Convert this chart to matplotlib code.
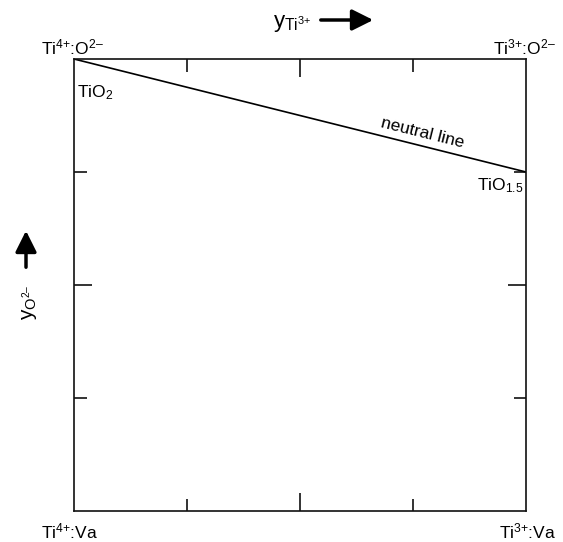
import matplotlib
matplotlib.use("Agg")
import matplotlib.pyplot as plt

plt.rcParams['font.family'] = ['Liberation Sans', 'DejaVu Sans']
plt.rcParams['mathtext.fontset'] = 'custom'
plt.rcParams['mathtext.rm'] = 'Liberation Sans'
plt.rcParams['mathtext.it'] = 'Liberation Sans'

# Data: neutral line end points (y_Ti3+, y_O2-)
neutral_x = [0.0, 1.0]
neutral_y = [1.0, 0.75]
major_ticks = [0.5]
minor_ticks = [0.25, 0.75]
corner_labels = ['Ti$^{4{+}}$:O$^{2\u2013}$', 'Ti$^{3{+}}$:O$^{2\u2013}$',
                 'Ti$^{4{+}}$:Va', 'Ti$^{3{+}}$:Va']

W, H = 563, 542
fig = plt.figure(figsize=(W / 100, H / 100), dpi=100)
ax = fig.add_axes([74 / W, (H - 511) / H, 452 / W, 452 / H])
ax.set_xlim(0, 1)
ax.set_ylim(0, 1)

ax.plot(neutral_x, neutral_y, color='black', lw=1.2)

for s in ax.spines.values():
    s.set_linewidth(1.2)
    s.set_color('#111111')

ax.set_xticks(major_ticks)
ax.set_xticks(minor_ticks, minor=True)
ax.set_yticks(major_ticks)
ax.set_yticks(minor_ticks, minor=True)
ax.tick_params(which='both', direction='in', top=True, right=True,
               labelbottom=False, labelleft=False, width=1.2, color='#111111')
ax.tick_params(which='major', length=13)
ax.tick_params(which='minor', length=9)

fs = 12.5
# Corner labels (figure pixel coords)
def ftext(x, y, s, size=fs, **kw):
    fig.text(x / W, 1 - y / H, s, fontsize=size, **kw)

ftext(41, 54, corner_labels[0], ha='left', va='baseline')
ftext(556, 54, corner_labels[1], ha='right', va='baseline')
ftext(41, 538, corner_labels[2], ha='left', va='baseline')
ftext(556, 538, corner_labels[3], ha='right', va='baseline')

# Axis titles with arrows
ftext(273, 27, 'y$_{\\mathrm{Ti}^{3{+}}}$', size=16, ha='left', va='baseline')
fig.add_artist(matplotlib.patches.FancyArrowPatch(
    (318 / W, 1 - 20 / H), (376 / W, 1 - 20 / H), transform=fig.transFigure,
    arrowstyle='-|>', mutation_scale=32, lw=2.5, color='black'))
fig.add_artist(matplotlib.patches.FancyArrowPatch(
    (26 / W, 1 - 270 / H), (26 / W, 1 - 228 / H), transform=fig.transFigure,
    arrowstyle='-|>', mutation_scale=32, lw=2.5, color='black'))
ftext(30, 302, 'y$_{\\mathrm{O}^{2\u2013}}$', size=15, ha='center', va='center',
      rotation=90)

# Annotations inside the axes
ax.text(0.007, 0.925, 'TiO$_2$', fontsize=fs, ha='left', va='center')
ax.text(0.995, 0.741, 'TiO$_{1.5}$', fontsize=fs, ha='right', va='top')
ax.text(0.77, 0.836, 'neutral line', fontsize=fs, ha='center', va='center',
        rotation=-14, rotation_mode='anchor')

fig.savefig('out.png', dpi=100)
